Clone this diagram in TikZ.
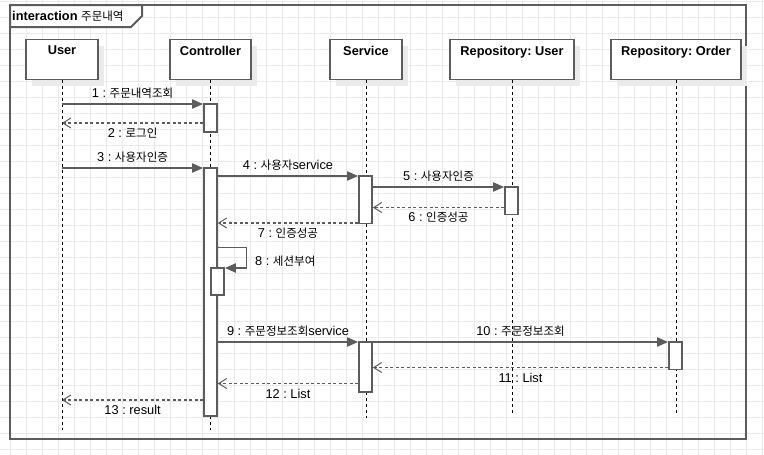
\documentclass[tikz,border=0pt]{standalone}
\usepackage{fontspec}
\setmainfont{Liberation Sans}
\newfontfamily\kr{Noto Sans CJK KR}[Scale=0.9]
\usetikzlibrary{arrows.meta,shadows}
\definecolor{ink}{HTML}{5C5C5C}
\definecolor{gridc}{HTML}{EAEAEA}
\definecolor{shade}{HTML}{EBEBEB}
\frenchspacing
\begin{document}
\begin{tikzpicture}[x=1pt, y=-1pt,
  font=\fontsize{12.8}{15}\selectfont,
  gridline/.style={draw=gridc, line width=0.9pt},
  frameline/.style={draw=ink, line width=2pt},
  head/.style={draw=ink, line width=1.6pt, fill=white, minimum height=40pt,
    inner sep=0pt, general shadow={fill=shade, shadow xshift=6pt, shadow yshift=-6pt}},
  headtext/.style={anchor=north, yshift=-7pt, inner sep=0pt, font=\fontsize{12.8}{15}\selectfont\bfseries},
  lifeline/.style={draw=black, line width=0.9pt, dash pattern=on 3pt off 3pt},
  act/.style={draw=ink, line width=1.6pt, fill=white, minimum width=13pt, inner sep=0pt},
  sync/.style={draw=ink, line width=1.8pt, -{Triangle[length=11pt,width=9pt]}},
  reply/.style={draw=ink, line width=1.6pt, dash pattern=on 3pt off 2.5pt,
    -{Straight Barb[length=8pt,width=10pt,line width=1pt]}},
  msgabove/.style={midway, yshift=11pt, inner sep=0pt},
  msgbelow/.style={midway, yshift=-10pt, inner sep=0pt}
]
\useasboundingbox (0,0) rectangle (764,455);
\fill[white] (0,0) rectangle (764,455);

% background grid
\foreach \i in {0,...,48} \draw[gridline] (\i*16-5.5,0) -- (\i*16-5.5,455);
\foreach \j in {0,...,28} \draw[gridline] (0,\j*16+1) -- (764,\j*16+1);

% interaction frame and its tab
\draw[frameline] (10,5) rectangle (746,439);
\draw[frameline, fill=white] (10,5) -- (142,5) -- (142,16) -- (131,27) -- (10,27) -- cycle;
\node[anchor=west, inner sep=0pt] (title) at (12,16) {\textbf{interaction} {\kr 주문내역}};

% lifeline heads
\node[head, minimum width=72pt,  label={[headtext]north:User}]              (user) at (62,59.5) {};
\node[head, minimum width=81pt,  label={[headtext]north:Controller}]        (ctrl) at (210.5,59.5) {};
\node[head, minimum width=72pt,  label={[headtext]north:Service}]           (svc)  at (366,59.5) {};
\node[head, minimum width=124pt, label={[headtext]north:Repository: User}]  (ruser) at (512,59.5) {};
\node[head, minimum width=130pt, label={[headtext]north:Repository: Order}] (rord) at (676,59.5) {};

% lifeline ends
\coordinate (userEnd)  at (62,430);
\coordinate (ctrlEnd)  at (210.5,430);
\coordinate (svcEnd)   at (366,418);
\coordinate (ruserEnd) at (512,413);
\coordinate (rordEnd)  at (676,413);

\draw[lifeline] (user.south)  -- (userEnd);
\draw[lifeline] (ctrl.south)  -- (ctrlEnd);
\draw[lifeline] (svc.south)   -- (svcEnd);
\draw[lifeline] (ruser.south) -- (ruserEnd);
\draw[lifeline] (rord.south)  -- (rordEnd);

% activation bars
\node[act, minimum height=27.7pt]  (a1) at (210.5,117.85) {};
\node[act, minimum height=247.7pt] (a2) at (210.5,291.85) {};
\node[act, minimum height=27pt]    (a3) at (217.5,281.5) {};
\node[act, minimum height=47.3pt]  (s1) at (365.5,199.65) {};
\node[act, minimum height=49.7pt]  (s2) at (365.5,366.85) {};
\node[act, minimum height=27.3pt]  (r1) at (511.5,200.65) {};
\node[act, minimum height=27.3pt]  (r2) at (675.5,355.65) {};

% messages
\draw[sync]  (user.south |- 0,104) -- (a1.west |- 0,104)
  node[msgabove] {1 : {\kr 주문내역조회}};
\draw[reply] (a1.west |- 0,123) -- (user.south |- 0,123)
  node[msgbelow] {2 : {\kr 로그인}};
\draw[sync]  (user.south |- 0,168) -- (a2.west |- 0,168)
  node[msgabove] {3 : {\kr 사용자인증}};
\draw[sync]  (a2.east |- 0,176) -- (s1.west |- 0,176)
  node[msgabove] {4 : {\kr 사용자}service};
\draw[sync]  (s1.east |- 0,187) -- (r1.west |- 0,187)
  node[msgabove] {5 : {\kr 사용자인증}};
\draw[reply] (r1.west |- 0,207.5) -- (s1.east |- 0,207.5)
  node[msgbelow] {6 : {\kr 인증성공}};
\draw[reply] (s1.west |- 0,223) -- (a2.east |- 0,223)
  node[msgbelow] {7 : {\kr 인증성공}};
\draw[sync]  (a2.east |- 0,247.5) -- (246.5,247.5) |- (a3.east |- 0,268);
\node[anchor=west, inner sep=0pt] (m8) at (255,261.5) {8 : {\kr 세션부여}};
\draw[sync]  (a2.east |- 0,342) -- (s2.west |- 0,342)
  node[msgabove] {9 : {\kr 주문정보조회}service};
\draw[sync]  (s2.east |- 0,342) -- (r2.west |- 0,342)
  node[msgabove] {10 : {\kr 주문정보조회}};
\draw[reply] (r2.west |- 0,367.5) -- (s2.east |- 0,367.5)
  node[msgbelow] {11 : List};
\draw[reply] (s2.west |- 0,383.5) -- (a2.east |- 0,383.5)
  node[msgbelow] {12 : List};
\draw[reply] (a2.west |- 0,400) -- (user.south |- 0,400)
  node[msgbelow] {13 : result};
\end{tikzpicture}
\end{document}
